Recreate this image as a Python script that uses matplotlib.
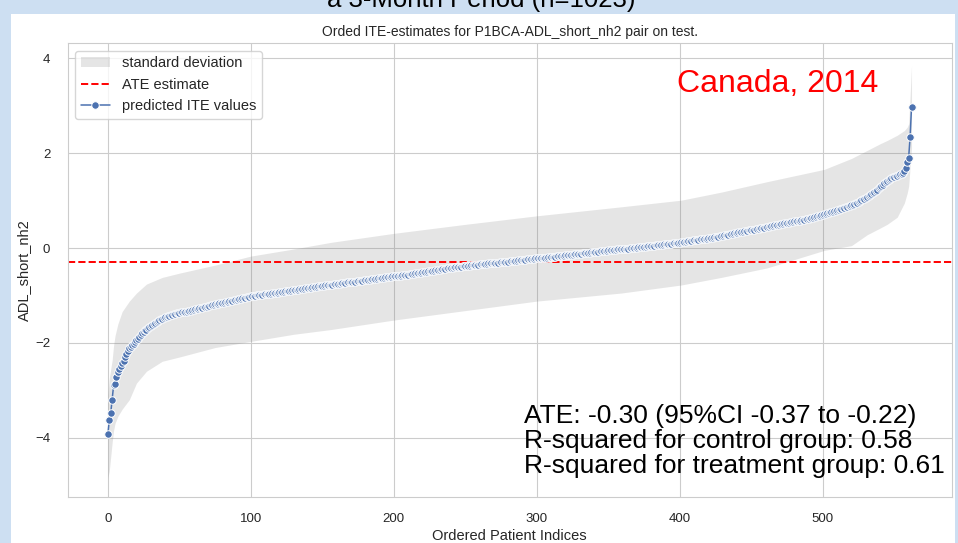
import matplotlib
matplotlib.use('Agg')
import matplotlib.pyplot as plt
from matplotlib.patches import Rectangle
import seaborn as sns
import numpy as np

# sorted individual treatment effects, one value per patient
ite = [
    -3.93, -3.62, -3.48, -3.20, -2.90, -2.86, -2.72, -2.62, -2.56, -2.48,
    -2.42, -2.38, -2.30, -2.24, -2.18, -2.12, -2.08, -2.05, -2.02, -1.98,
    -1.95, -1.91, -1.87, -1.84, -1.80, -1.77, -1.74, -1.72, -1.69, -1.66,
    -1.64, -1.62, -1.60, -1.58, -1.56, -1.54, -1.52, -1.50, -1.49, -1.47,
    -1.46, -1.45, -1.44, -1.43, -1.42, -1.41, -1.40, -1.39, -1.38, -1.38,
    -1.37, -1.36, -1.36, -1.35, -1.34, -1.34, -1.33, -1.32, -1.32, -1.31,
    -1.30, -1.29, -1.29, -1.28, -1.27, -1.26, -1.26, -1.25, -1.24, -1.24,
    -1.23, -1.22, -1.21, -1.21, -1.20, -1.19, -1.18, -1.18, -1.17, -1.16,
    -1.16, -1.15, -1.14, -1.14, -1.13, -1.12, -1.12, -1.11, -1.10, -1.09,
    -1.09, -1.08, -1.07, -1.07, -1.06, -1.05, -1.05, -1.04, -1.03, -1.03,
    -1.02, -1.02, -1.01, -1.01, -1.00, -1.00, -1.00, -0.99, -0.99, -0.98,
    -0.98, -0.97, -0.97, -0.96, -0.96, -0.95, -0.95, -0.95, -0.94, -0.94,
    -0.93, -0.93, -0.92, -0.92, -0.91, -0.91, -0.91, -0.90, -0.90, -0.89,
    -0.89, -0.88, -0.88, -0.88, -0.87, -0.87, -0.86, -0.86, -0.85, -0.85,
    -0.84, -0.84, -0.84, -0.83, -0.83, -0.82, -0.82, -0.81, -0.81, -0.80,
    -0.80, -0.80, -0.79, -0.79, -0.78, -0.78, -0.77, -0.77, -0.76, -0.76,
    -0.75, -0.75, -0.75, -0.74, -0.74, -0.73, -0.73, -0.72, -0.72, -0.72,
    -0.72, -0.71, -0.71, -0.71, -0.70, -0.70, -0.69, -0.69, -0.69, -0.68,
    -0.68, -0.67, -0.67, -0.67, -0.66, -0.66, -0.65, -0.65, -0.65, -0.64,
    -0.64, -0.63, -0.63, -0.63, -0.62, -0.62, -0.61, -0.61, -0.61, -0.60,
    -0.60, -0.60, -0.59, -0.59, -0.58, -0.58, -0.57, -0.57, -0.56, -0.56,
    -0.56, -0.55, -0.55, -0.54, -0.54, -0.53, -0.53, -0.52, -0.52, -0.52,
    -0.51, -0.51, -0.50, -0.50, -0.49, -0.49, -0.49, -0.48, -0.48, -0.47,
    -0.47, -0.46, -0.46, -0.45, -0.45, -0.44, -0.44, -0.43, -0.43, -0.43,
    -0.42, -0.42, -0.41, -0.41, -0.40, -0.40, -0.39, -0.39, -0.38, -0.38,
    -0.38, -0.37, -0.37, -0.37, -0.36, -0.36, -0.36, -0.35, -0.35, -0.35,
    -0.34, -0.34, -0.34, -0.33, -0.33, -0.33, -0.32, -0.32, -0.32, -0.32,
    -0.31, -0.31, -0.31, -0.31, -0.30, -0.30, -0.30, -0.30, -0.29, -0.29,
    -0.29, -0.28, -0.28, -0.28, -0.27, -0.27, -0.27, -0.26, -0.26, -0.26,
    -0.25, -0.25, -0.25, -0.24, -0.24, -0.24, -0.23, -0.23, -0.23, -0.22,
    -0.22, -0.22, -0.21, -0.21, -0.21, -0.20, -0.20, -0.20, -0.19, -0.19,
    -0.19, -0.18, -0.18, -0.18, -0.17, -0.17, -0.17, -0.16, -0.16, -0.16,
    -0.15, -0.15, -0.15, -0.14, -0.14, -0.14, -0.13, -0.13, -0.13, -0.12,
    -0.12, -0.12, -0.11, -0.11, -0.11, -0.10, -0.10, -0.10, -0.09, -0.09,
    -0.09, -0.08, -0.08, -0.08, -0.07, -0.07, -0.07, -0.06, -0.06, -0.06,
    -0.05, -0.05, -0.05, -0.04, -0.04, -0.04, -0.03, -0.03, -0.03, -0.02,
    -0.02, -0.02, -0.01, -0.01, -0.01, 0.00, 0.00, 0.00, 0.01, 0.01,
    0.01, 0.02, 0.02, 0.02, 0.03, 0.03, 0.03, 0.04, 0.04, 0.04,
    0.05, 0.05, 0.05, 0.06, 0.06, 0.06, 0.07, 0.07, 0.07, 0.08,
    0.08, 0.08, 0.09, 0.09, 0.09, 0.10, 0.10, 0.10, 0.11, 0.11,
    0.11, 0.12, 0.12, 0.13, 0.13, 0.14, 0.14, 0.15, 0.15, 0.16,
    0.16, 0.16, 0.17, 0.17, 0.18, 0.18, 0.19, 0.19, 0.20, 0.20,
    0.21, 0.21, 0.22, 0.22, 0.23, 0.23, 0.24, 0.24, 0.25, 0.25,
    0.26, 0.27, 0.27, 0.28, 0.28, 0.29, 0.30, 0.30, 0.31, 0.31,
    0.32, 0.33, 0.33, 0.34, 0.34, 0.35, 0.36, 0.36, 0.37, 0.37,
    0.38, 0.39, 0.39, 0.40, 0.40, 0.41, 0.42, 0.42, 0.43, 0.43,
    0.44, 0.45, 0.45, 0.46, 0.46, 0.47, 0.48, 0.48, 0.49, 0.49,
    0.50, 0.50, 0.51, 0.52, 0.52, 0.53, 0.53, 0.54, 0.55, 0.55,
    0.56, 0.56, 0.57, 0.58, 0.58, 0.59, 0.60, 0.60, 0.61, 0.62,
    0.62, 0.63, 0.64, 0.64, 0.65, 0.66, 0.67, 0.67, 0.68, 0.69,
    0.70, 0.71, 0.72, 0.73, 0.74, 0.75, 0.76, 0.77, 0.78, 0.79,
    0.80, 0.81, 0.82, 0.83, 0.84, 0.85, 0.86, 0.87, 0.88, 0.89,
    0.90, 0.91, 0.93, 0.94, 0.96, 0.98, 0.99, 1.01, 1.03, 1.04,
    1.06, 1.08, 1.10, 1.12, 1.14, 1.16, 1.19, 1.21, 1.23, 1.26,
    1.28, 1.31, 1.34, 1.37, 1.39, 1.41, 1.43, 1.45, 1.47, 1.49,
    1.50, 1.52, 1.53, 1.55, 1.56, 1.57, 1.59, 1.63, 1.69, 1.82,
    1.91, 2.34, 2.97,
]

# standard deviation band, edges read at a few patient indices
band_idx = [0, 1, 2, 3, 4, 5, 7, 10, 15, 20, 27, 38, 50, 75, 100, 130, 156,
            200, 250, 300, 359, 401, 429, 461, 501, 520, 531, 540, 545, 552,
            557, 559, 560, 561, 562]
band_upper = [-3.10, -2.75, -2.55, -2.36, -2.05, -1.85, -1.60, -1.34, -1.12,
              -0.95, -0.76, -0.62, -0.53, -0.36, -0.17, -0.02, 0.12, 0.31,
              0.50, 0.68, 0.87, 1.01, 1.18, 1.40, 1.66, 1.89, 2.06, 2.20,
              2.27, 2.38, 2.48, 2.55, 2.62, 3.20, 3.85]
band_lower = [-4.85, -4.70, -4.40, -4.10, -3.85, -3.70, -3.55, -3.40, -3.20,
              -2.85, -2.60, -2.39, -2.30, -2.10, -1.97, -1.82, -1.72, -1.52,
              -1.32, -1.12, -0.95, -0.78, -0.62, -0.42, -0.05, 0.05, 0.28,
              0.42, 0.50, 0.65, 0.95, 1.16, 1.30, 1.70, 2.10]

ate = -0.30
stats_lines = ["ATE: -0.30 (95%CI -0.37 to -0.22)",
               "R-squared for control group: 0.58",
               "R-squared for treatment group: 0.61"]

sns.set_style('whitegrid')
plt.rcParams['font.family'] = ['Liberation Sans', 'DejaVu Sans']

W, H = 958, 543
fig = plt.figure(figsize=(W / 100, H / 100), dpi=100, facecolor='#cddff2')
# white slide panel behind the chart
fig.patches.append(Rectangle((11 / W, 0), (955 - 11) / W, (H - 14) / H,
                             transform=fig.transFigure, facecolor='white',
                             edgecolor='none', zorder=-10))

ax = fig.add_axes([67.7 / W, (H - 497.3) / H, (951.7 - 67.7) / W, (497.3 - 43.3) / H])

idx = np.arange(len(ite))
band = ax.fill_between(band_idx, band_lower, band_upper, color='gray', alpha=0.2,
                       linewidth=0, label='standard deviation')
ate_line = ax.axhline(ate, color='red', linestyle='--', linewidth=1.4,
                      label='ATE estimate', zorder=2)
ite_line, = ax.plot(idx, ite, color='#4c72b0', marker='o', markersize=5.4,
                    markeredgecolor='white', markeredgewidth=0.7, linewidth=1.1,
                    label='predicted ITE values', zorder=3)

ax.set_xlim(-28.1, 590.1)
ax.set_ylim(-5.26, 4.32)
ax.set_xticks([0, 100, 200, 300, 400, 500])
ax.set_yticks([-4, -2, 0, 2, 4])
ax.tick_params(axis='x', labelsize=9.5, pad=8, colors='.15')
ax.tick_params(axis='y', labelsize=9.5, pad=9, colors='.15')
for s in ax.spines.values():
    s.set_color('.8')

ax.set_title('Orded ITE-estimates for P1BCA-ADL_short_nh2 pair on test.',
             fontsize=10, pad=5.5, color='.15')
ax.set_xlabel('Ordered Patient Indices', fontsize=10.5, labelpad=3, color='.15')
ax.set_ylabel('ADL_short_nh2', fontsize=10.5, labelpad=3, color='.15')

ax.legend(handles=[band, ate_line, ite_line], loc='upper left', fontsize=10.5)

# slide annotations
fig.text(481 / W, 1 - 7 / H, 'a 3-Month Period (n=1023)', fontsize=18.5,
         ha='center', va='baseline', color='black')
fig.text(677 / W, 1 - 91.7 / H, 'Canada, 2014', fontsize=23, color='red',
         ha='left', va='baseline')
for k, line in enumerate(stats_lines):
    fig.text(524 / W, 1 - (423.3 + 25 * k) / H, line, fontsize=19,
             color='black', ha='left', va='baseline')

fig.savefig('out.png', dpi=100, facecolor=fig.get_facecolor())
